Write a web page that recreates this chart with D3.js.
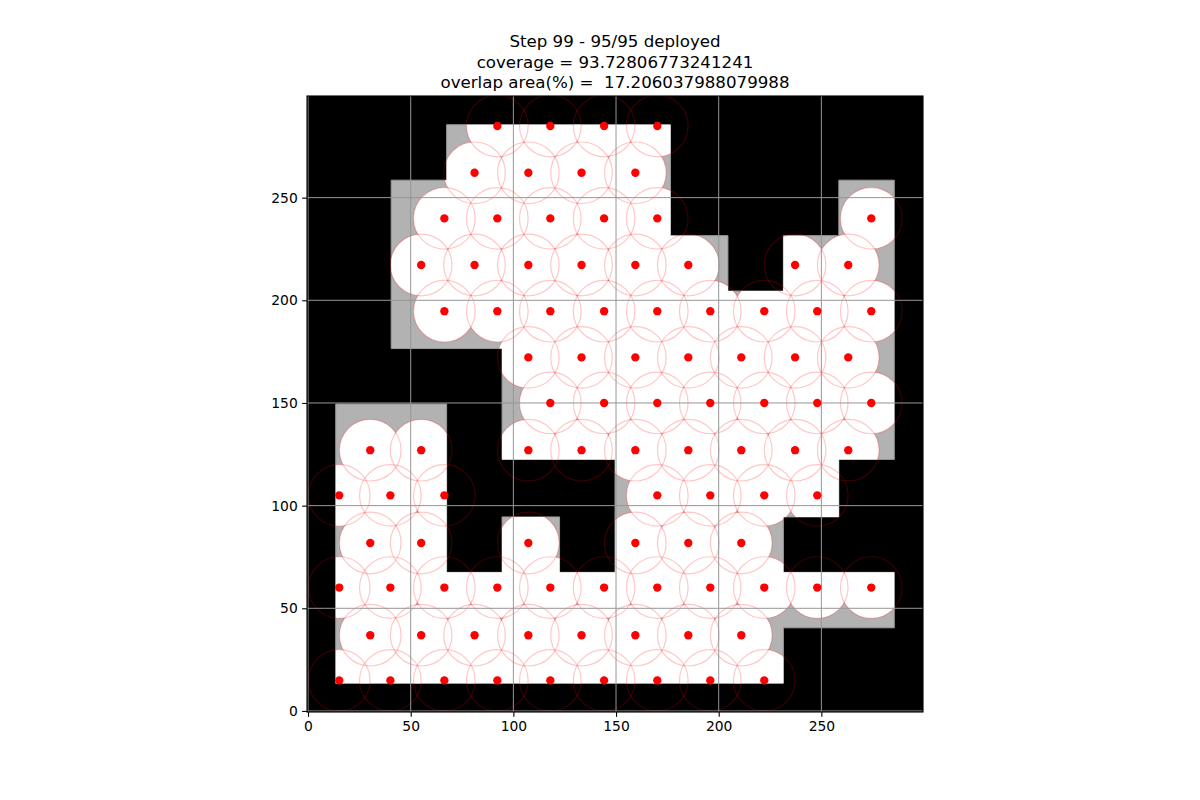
<!DOCTYPE html>
<html><head><meta charset="utf-8">
<script src="https://cdn.jsdelivr.net/npm/d3@7"></script>
<style>
body{margin:0;background:#fff}
svg{display:block}
text{font-family:"DejaVu Sans",sans-serif}
</style>
</head><body>
<svg id="c" width="1200" height="800"></svg>
<script>
const titleLines = ["Step 99 - 95/95 deployed", "coverage = 93.72806773241241", "overlap area(%) =  17.206037988079988"];
const xTicks = [0, 50, 100, 150, 200, 250];
const yTicks = [0, 50, 100, 150, 200, 250];
const mapExtent = [-0.5, 299.5];
const sensingRadius = 15;

// boundary of the free (non-obstacle) area
const freeX = [13.5,13.5,67.5,67.5,94.5,94.5,122.5,122.5,149.5,149.5,94.5,94.5,40.5,40.5,67.5,67.5,176.5,176.5,204.5,204.5,231.5,231.5,258.5,258.5,285.5,285.5,258.5,258.5,231.5,231.5,285.5,285.5,231.5,231.5];
const freeY = [13.5,149.5,149.5,67.5,67.5,94.5,94.5,67.5,67.5,122.5,122.5,176.5,176.5,258.5,258.5,285.5,285.5,231.5,231.5,204.5,204.5,231.5,231.5,258.5,258.5,122.5,122.5,94.5,94.5,67.5,67.5,40.5,40.5,13.5];

// deployed sensors
const sensorX = [
92.2,118.0,144.2,170.1,
81.1,107.3,133.2,159.4,
66.4,92.2,118.0,144.2,170.1,274.3,
55.1,81.1,107.3,133.2,159.4,185.2,237.2,263.1,
66.4,92.2,118.0,144.2,170.1,195.9,222.2,248.0,274.3,
107.3,133.2,159.4,185.2,211.0,237.2,263.1,
118.0,144.2,170.1,195.9,222.2,248.0,274.3,
30.3,55.1,107.3,133.2,159.4,185.2,211.0,237.2,263.1,
15.2,40.1,66.4,170.1,195.9,222.2,248.0,
30.3,55.1,107.3,159.4,185.2,211.0,
15.2,40.1,66.4,92.2,118.0,144.2,170.1,195.9,222.2,248.0,274.3,
30.3,55.1,81.1,107.3,133.2,159.4,185.2,211.0,
15.2,40.1,66.4,92.2,118.0,144.2,170.1,195.9,222.2];
const sensorY = [
284.9,284.9,284.9,284.9,
262.1,262.1,262.1,262.1,
239.9,239.9,239.9,239.9,239.9,239.9,
217.2,217.2,217.2,217.2,217.2,217.2,217.2,217.2,
194.7,194.7,194.7,194.7,194.7,194.7,194.7,194.7,194.7,
172.2,172.2,172.2,172.2,172.2,172.2,172.2,
150.0,150.0,150.0,150.0,150.0,150.0,150.0,
127.0,127.0,127.0,127.0,127.0,127.0,127.0,127.0,127.0,
105.0,105.0,105.0,105.0,105.0,105.0,105.0,
81.8,81.8,81.8,81.8,81.8,81.8,
60.1,60.1,60.1,60.1,60.1,60.1,60.1,60.1,60.1,60.1,60.1,
36.9,36.9,36.9,36.9,36.9,36.9,36.9,36.9,
14.9,14.9,14.9,14.9,14.9,14.9,14.9,14.9,14.9];

const svg = d3.select("#c");
const L = 307, R = 923, T = 96, B = 712;
const x = d3.scaleLinear().domain(mapExtent).range([L, R]);
const y = d3.scaleLinear().domain(mapExtent).range([B, T]);
const rpx = x(sensingRadius) - x(0);

const defs = svg.append("defs");
defs.append("clipPath").attr("id", "axclip").append("rect")
  .attr("x", L).attr("y", T).attr("width", R - L).attr("height", B - T);
const freePts = freeX.map((v, i) => [v, freeY[i]]);
const line = d3.line().x(d => x(d[0])).y(d => y(d[1]));
defs.append("clipPath").attr("id", "freeclip").append("path").attr("d", line(freePts) + "Z");

const plot = svg.append("g").attr("clip-path", "url(#axclip)");
// obstacle background
plot.append("rect").attr("x", x(mapExtent[0])).attr("y", y(mapExtent[1]))
  .attr("width", x(mapExtent[1]) - x(mapExtent[0])).attr("height", y(mapExtent[0]) - y(mapExtent[1]))
  .attr("fill", "#000");
// free area (uncovered)
plot.append("path").attr("d", line(freePts) + "Z").attr("fill", "#b2b2b2")
  .attr("stroke", "#9a9a9a").attr("stroke-width", 1);
// covered area
const sensors = sensorX.map((v, i) => ({x: v, y: sensorY[i]}));
plot.append("g").attr("clip-path", "url(#freeclip)")
  .selectAll("circle").data(sensors).join("circle")
  .attr("cx", d => x(d.x)).attr("cy", d => y(d.y)).attr("r", rpx).attr("fill", "#fff");
// sensing range outlines
plot.append("g").selectAll("circle").data(sensors).join("circle")
  .attr("cx", d => x(d.x)).attr("cy", d => y(d.y)).attr("r", rpx)
  .attr("fill", "none").attr("stroke", "#ff0000").attr("stroke-opacity", 0.22).attr("stroke-width", 1.2);
// grid
const grid = plot.append("g").attr("stroke", "#969696").attr("stroke-width", 1);
xTicks.forEach(t => grid.append("line").attr("x1", x(t)).attr("x2", x(t)).attr("y1", T).attr("y2", B));
yTicks.forEach(t => grid.append("line").attr("y1", y(t)).attr("y2", y(t)).attr("x1", L).attr("x2", R));
// sensors
plot.append("g").selectAll("circle").data(sensors).join("circle")
  .attr("cx", d => x(d.x)).attr("cy", d => y(d.y)).attr("r", 4.17).attr("fill", "#ff0000");

// axes
const xa = svg.append("g").attr("transform", `translate(0,${B})`)
  .call(d3.axisBottom(x).tickValues(xTicks).tickSize(4.86).tickPadding(4.4).tickSizeOuter(0));
const ya = svg.append("g").attr("transform", `translate(${L},0)`)
  .call(d3.axisLeft(y).tickValues(yTicks).tickSize(4.86).tickPadding(4.4).tickSizeOuter(0));
[xa, ya].forEach(a => {
  a.select(".domain").remove();
  a.selectAll("text").attr("font-size", "13.89px").attr("font-family", "DejaVu Sans").attr("fill", "#000");
  a.selectAll("line").attr("stroke", "#000").attr("stroke-width", 1.11);
});
svg.append("rect").attr("x", L).attr("y", T).attr("width", R - L).attr("height", B - T)
  .attr("fill", "none").attr("stroke", "#000").attr("stroke-width", 1.11);

// title
const baselines = [47.3, 67.7, 88.1];
svg.append("g").selectAll("text").data(titleLines).join("text")
  .attr("x", (L + R) / 2).attr("y", (d, i) => baselines[i])
  .attr("text-anchor", "middle").attr("font-size", "16.67px").style("white-space", "pre")
  .attr("fill", "#000").text(d => d);
</script>
</body></html>
